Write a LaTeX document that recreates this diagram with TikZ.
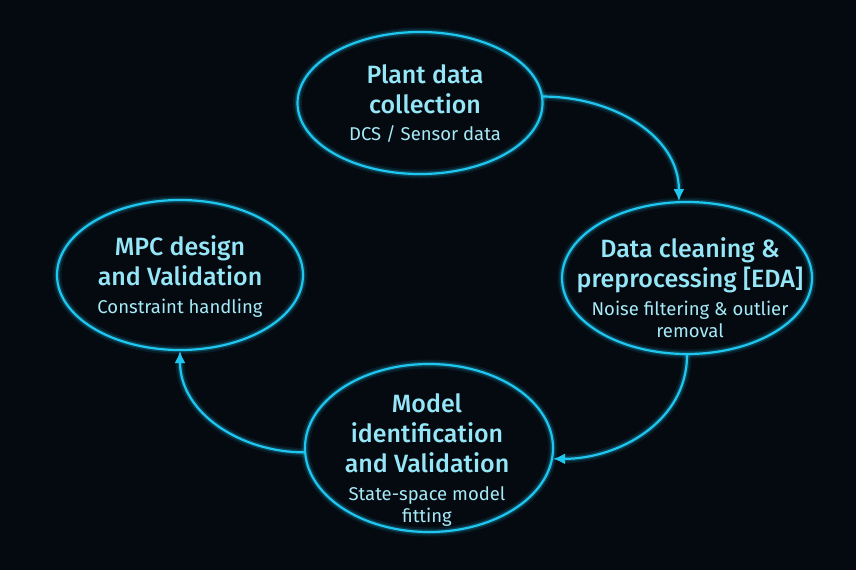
\documentclass[tikz,border=0pt]{standalone}
\usepackage{fontspec}
\setmainfont{Fira Sans}[BoldFont={Fira Sans Medium}]
\usepackage{xcolor}
\usetikzlibrary{shapes.geometric, arrows.meta}

\definecolor{bgnight}{HTML}{050910}
\definecolor{glowcyan}{HTML}{1EC6F0}
\definecolor{titlecyan}{HTML}{95E6F6}
\definecolor{subcyan}{HTML}{A6EAF7}

\tikzset{
    glow/.style={draw=glowcyan, line width=2.2pt,
        preaction={draw=glowcyan, line width=9pt, opacity=0.10},
        preaction={draw=glowcyan, line width=5pt, opacity=0.22}},
    stage/.style={ellipse, glow, inner sep=0pt},
    stagetext/.style={align=center, text=titlecyan, font=\fontsize{25}{30}\selectfont\bfseries},
    cyclearrow/.style={glow, -{Latex[length=12pt, width=11pt]}}
}
\newcommand{\subline}[1]{{\fontsize{18.5}{23}\selectfont\mdseries\color{subcyan}#1}}

\begin{document}
\begin{tikzpicture}[x=1pt, y=-1pt]
    \fill[bgnight] (0,0) rectangle (856,570);
    \useasboundingbox (0,0) rectangle (856,570);

    % the four stages
    \node[stage, minimum width=245pt, minimum height=142pt] (collect) at (420,103) {};
    \node[stage, minimum width=250pt, minimum height=152pt] (clean) at (687,278) {};
    \node[stage, minimum width=248pt, minimum height=168pt] (model) at (429,448) {};
    \node[stage, minimum width=246pt, minimum height=150pt] (mpc) at (180,275) {};

    \node[stagetext] (collecttxt) at (425,104) {Plant data\\collection\\[-3pt]\subline{DCS / Sensor data}};
    \node[stagetext] (cleantxt) at (690,288) {Data cleaning \&\\preprocessing [EDA]\\[-2pt]\subline{Noise filtering \& outlier}\\[-8pt]\subline{removal}};
    \node[stagetext] (modeltxt) at (427,460) {Model\\identification\\and Validation\\[-2pt]\subline{State-space model}\\[-8pt]\subline{fitting}};
    \node[stagetext] (mpctxt) at (180,277) {MPC design\\and Validation\\[-2pt]\subline{Constraint handling}};

    % the cycle
    \draw[cyclearrow] (collect.3) to[out=0, in=90] (clean.96);
    \draw[cyclearrow] (clean.-90) to[out=-90, in=0] (model.-5);
    \draw[cyclearrow] (model.-178) to[out=180, in=-90] (mpc.-90);
\end{tikzpicture}
\end{document}
